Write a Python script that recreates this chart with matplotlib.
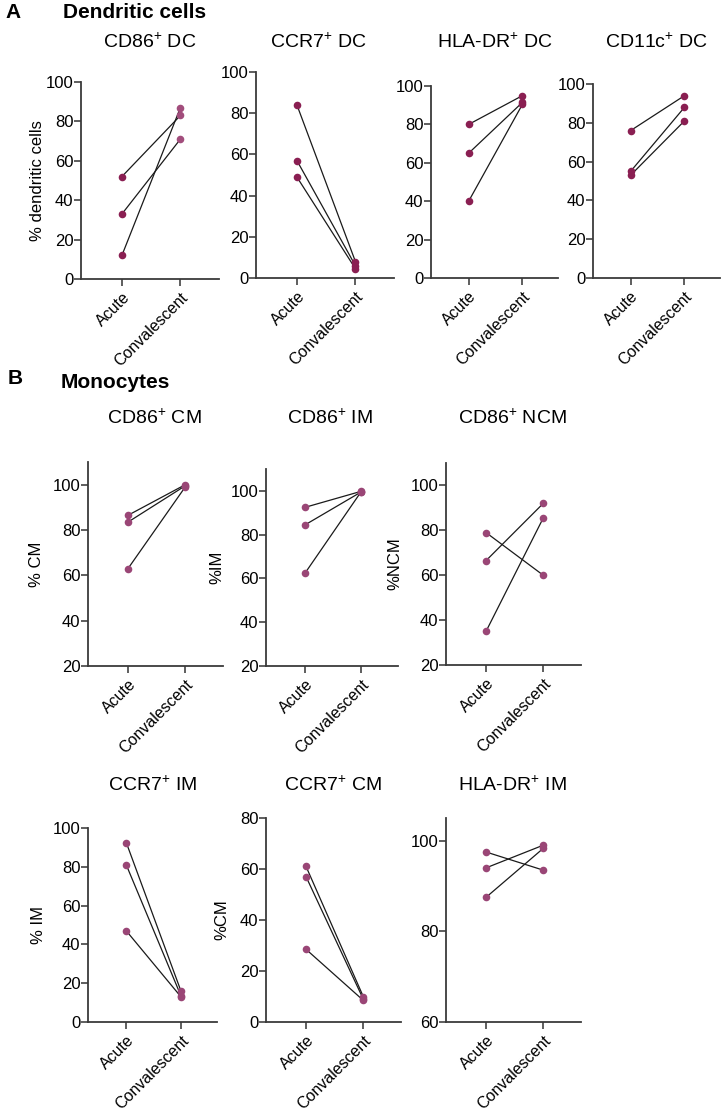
#!/usr/bin/env python3
"""Paired acute vs convalescent plots for dendritic cells and monocytes."""

import matplotlib
matplotlib.use("Agg")
import matplotlib.pyplot as plt

plt.rcParams["font.family"] = ["Liberation Sans", "DejaVu Sans"]
plt.rcParams["mathtext.fontset"] = "custom"
plt.rcParams["mathtext.rm"] = "Liberation Sans"
plt.rcParams["mathtext.it"] = "Liberation Sans:italic"

groups = ["Acute", "Convalescent"]

# panel A: dendritic cells (acute, convalescent) per donor
cd86_dc_acute = [52, 33, 12]
cd86_dc_conv = [83, 71, 87]
ccr7_dc_acute = [84, 57, 49]
ccr7_dc_conv = [8, 6, 4.5]
hladr_dc_acute = [80, 65, 40]
hladr_dc_conv = [95, 91.5, 90.5]
cd11c_dc_acute = [76, 55, 53]
cd11c_dc_conv = [94, 88, 81]

# panel B: monocytes
cd86_cm_acute = [86.5, 83.5, 63]
cd86_cm_conv = [100, 99.5, 99]
cd86_im_acute = [92.5, 84.5, 62.5]
cd86_im_conv = [99.8, 99.5, 99.6]
cd86_ncm_acute = [79, 66.5, 35]
cd86_ncm_conv = [60, 92, 85.5]
ccr7_im_acute = [92.5, 81, 47]
ccr7_im_conv = [16, 13.5, 13]
ccr7_cm_acute = [61, 57, 28.5]
ccr7_cm_conv = [10, 9, 8.5]
hladr_im_acute = [97.5, 94, 87.5]
hladr_im_conv = [93.5, 99, 98.3]

COL_A = "#8a1f52"
COL_A_LIGHT = "#a24d7c"
COL_B = "#9a4676"

W, H = 725, 1111
fig = plt.figure(figsize=(W / 100, H / 100), dpi=100)


def make_ax(left, right, top, bottom):
    return fig.add_axes([left / W, 1 - bottom / H, (right - left) / W, (bottom - top) / H])


def paired(ax, acute, conv, ylim, yticks, col, col_conv=None, ylabel="", ylab_x=None):
    col_conv = col_conv or col
    for a, c in zip(acute, conv):
        ax.plot([0, 1], [a, c], color="#1a1a1a", lw=0.9, zorder=2)
    ax.scatter([0] * len(acute), acute, s=30, color=col, zorder=3, linewidths=0)
    ax.scatter([1] * len(conv), conv, s=30, color=col_conv, zorder=3, linewidths=0)
    ax.set_xlim(-0.7, 1.66)
    ax.set_ylim(*ylim)
    ax.set_yticks(yticks)
    ax.set_xticks([0, 1])
    ax.set_xticklabels(groups, rotation=45, ha="right", rotation_mode="anchor", fontsize=11.5)
    ax.tick_params(axis="y", labelsize=12, length=5, width=1.1, color="#333333", pad=0.5)
    ax.tick_params(axis="x", length=5, width=1.1, color="#333333", pad=3)
    for s in ("top", "right"):
        ax.spines[s].set_visible(False)
    for s in ("left", "bottom"):
        ax.spines[s].set_linewidth(1.3)
        ax.spines[s].set_color("#3a3a3a")
    if ylabel:
        # ylab_x is the label's centre in pixels; the anchor is its right edge
        ax.set_ylabel(ylabel, fontsize=12)
        pos = ax.get_position()
        ax.yaxis.set_label_coords(((ylab_x + 8) / W - pos.x0) / pos.width, 0.5)
    return ax


# panel A
ax = make_ax(81, 219, 82, 279)
paired(ax, cd86_dc_acute, cd86_dc_conv, (0, 100), range(0, 101, 20), COL_A, COL_A_LIGHT,
       ylabel="% dendritic cells", ylab_x=37)
ax = make_ax(256, 394, 72, 278)
paired(ax, ccr7_dc_acute, ccr7_dc_conv, (0, 100), range(0, 101, 20), COL_A)
ax = make_ax(431, 558, 86, 278)
paired(ax, hladr_dc_acute, hladr_dc_conv, (0, 100), range(0, 101, 20), COL_A)
ax = make_ax(593, 720, 84, 278)
paired(ax, cd11c_dc_acute, cd11c_dc_conv, (0, 100), range(0, 101, 20), COL_A)

# panel B, first row
ax = make_ax(88, 223, 462, 666)
paired(ax, cd86_cm_acute, cd86_cm_conv, (20, 110), range(20, 101, 20), COL_B,
       ylabel="% CM", ylab_x=36)
ax = make_ax(266, 398, 469, 666)
paired(ax, cd86_im_acute, cd86_im_conv, (20, 110), range(20, 101, 20), COL_B,
       ylabel="%IM", ylab_x=216)
ax = make_ax(446, 581, 463, 665)
paired(ax, cd86_ncm_acute, cd86_ncm_conv, (20, 110), range(20, 101, 20), COL_B,
       ylabel="%NCM", ylab_x=394)

# panel B, second row
ax = make_ax(88, 217, 828, 1022)
paired(ax, ccr7_im_acute, ccr7_im_conv, (0, 100), range(0, 101, 20), COL_B,
       ylabel="% IM", ylab_x=38)
ax = make_ax(266, 401, 818, 1022)
paired(ax, ccr7_cm_acute, ccr7_cm_conv, (0, 80), range(0, 81, 20), COL_B,
       ylabel="%CM", ylab_x=221)
ax = make_ax(446, 581, 818, 1022)
paired(ax, hladr_im_acute, hladr_im_conv, (60, 105), range(60, 101, 20), COL_B)


# titles
def ftext(x, y, s, **kw):
    fig.text(x / W, 1 - y / H, s, **kw)


ftext(5, 12, "A", fontsize=15, fontweight="bold", va="center")
ftext(63, 13, "Dendritic cells", fontsize=15, fontweight="bold", va="center")
ftext(8, 378, "B", fontsize=15, fontweight="bold", va="center")
ftext(61, 382, "Monocytes", fontsize=15, fontweight="bold", va="center")

sub = dict(fontsize=14, ha="center", va="center")
ftext(150, 42, r"CD86$^{+}$ DC", **sub)
ftext(318, 42, r"CCR7$^{+}$ DC", **sub)
ftext(495, 42, r"HLA-DR$^{+}$ DC", **sub)
ftext(657, 42, r"CD11c$^{+}$ DC", **sub)
ftext(154, 418, r"CD86$^{+}$ CM", **sub)
ftext(330, 418, r"CD86$^{+}$ IM", **sub)
ftext(512, 418, r"CD86$^{+}$ NCM", **sub)
ftext(153, 785, r"CCR7$^{+}$ IM", **sub)
ftext(333, 785, r"CCR7$^{+}$ CM", **sub)
ftext(512, 785, r"HLA-DR$^{+}$ IM", **sub)

fig.savefig("out.png", dpi=100)
